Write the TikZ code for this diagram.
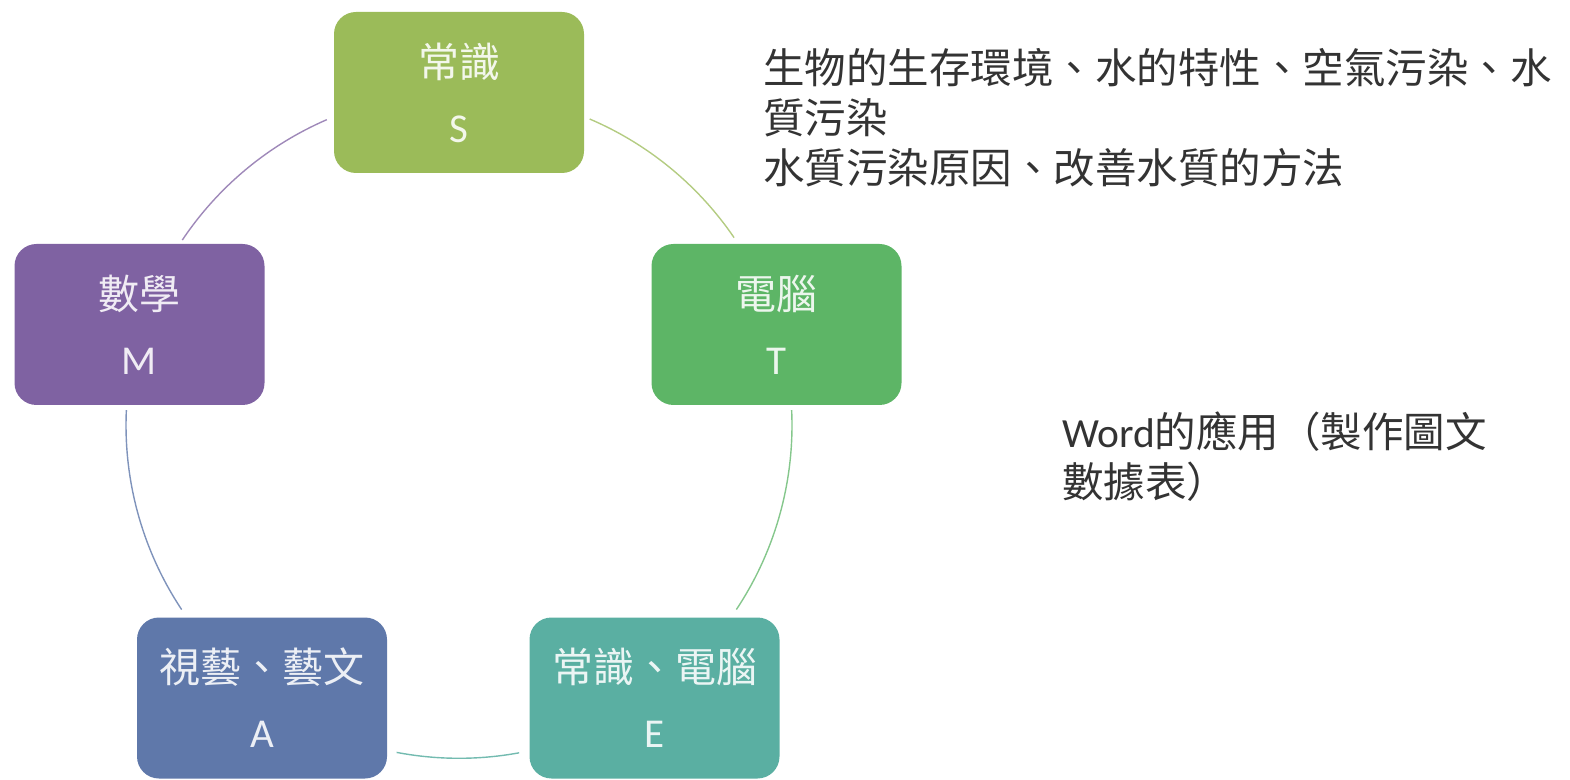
\documentclass[tikz,border=0pt]{standalone}
\usepackage{fontspec}
\setmainfont{Carlito}
\newfontfamily\cjk{Noto Sans CJK TC}
\usetikzlibrary{calc}
\definecolor{cS}{HTML}{9BBB59}
\definecolor{cT}{HTML}{5DB566}
\definecolor{cE}{HTML}{5AAFA2}
\definecolor{cA}{HTML}{5F78AA}
\definecolor{cM}{HTML}{7F62A2}
\definecolor{txt}{HTML}{333333}
\tikzset{
  box/.style={rounded corners=22pt, minimum width=250pt, minimum height=161pt, inner sep=0pt, align=center, font=\fontsize{41}{65}\selectfont},
  conn/.style={line width=1.4pt},
  note/.style={anchor=north west, align=left, inner sep=0pt, text=txt, font=\cjk\fontsize{41.5}{50}\selectfont}
}
\begin{document}
\begin{tikzpicture}[x=1pt,y=1pt]
\useasboundingbox (0,0) rectangle (1570,779);
\coordinate (C) at (459,353.7);
% connectors (arcs of the ring)
\coordinate (ms) at ($(C)+(146.2:333)$);
\coordinate (st) at ($(C)+(66.9:333)$);
\coordinate (te) at ($(C)+(2.6:333)$);
\coordinate (ea) at ($(C)+(-79.6:333)$);
\coordinate (am) at ($(C)+(-146.4:333)$);
\draw[conn, color=cM!75!white] (ms) arc[start angle=146.2, end angle=113.4, radius=333];
\draw[conn, color=cS!75!white] (st) arc[start angle=66.9, end angle=34.3, radius=333];
\draw[conn, color=cT!75!white] (te) arc[start angle=2.6, end angle=-33.6, radius=333];
\draw[conn, color=cE!85!white] (ea) arc[start angle=-79.6, end angle=-100.8, radius=333];
\draw[conn, color=cA!80!white] (am) arc[start angle=-146.4, end angle=-182.6, radius=333];
% boxes
\node[box, fill=cS, text=white!88!cS] (S) at (459,686.5) {{\cjk 常識}\\S};
\node[box, fill=cT, text=white!88!cT] (T) at (776.5,454.5) {{\cjk 電腦}\\T};
\node[box, fill=cE, text=white!88!cE] (E) at (654.5,81) {{\cjk 常識、電腦}\\E};
\node[box, fill=cA, text=white!88!cA] (A) at (262,81) {{\cjk 視藝、藝文}\\A};
\node[box, fill=cM, text=white!88!cM] (M) at (139.5,454.5) {{\cjk 數學}\\M};
% notes
\node[note] (n1) at (763,731) {生物的生存環境、水的特性、空氣污染、水\\質污染\\水質污染原因、改善水質的方法};
\node[note] (n2) at (1062,367) {{\rmfamily Word}的應用（製作圖文\\數據表）};
\end{tikzpicture}
\end{document}
